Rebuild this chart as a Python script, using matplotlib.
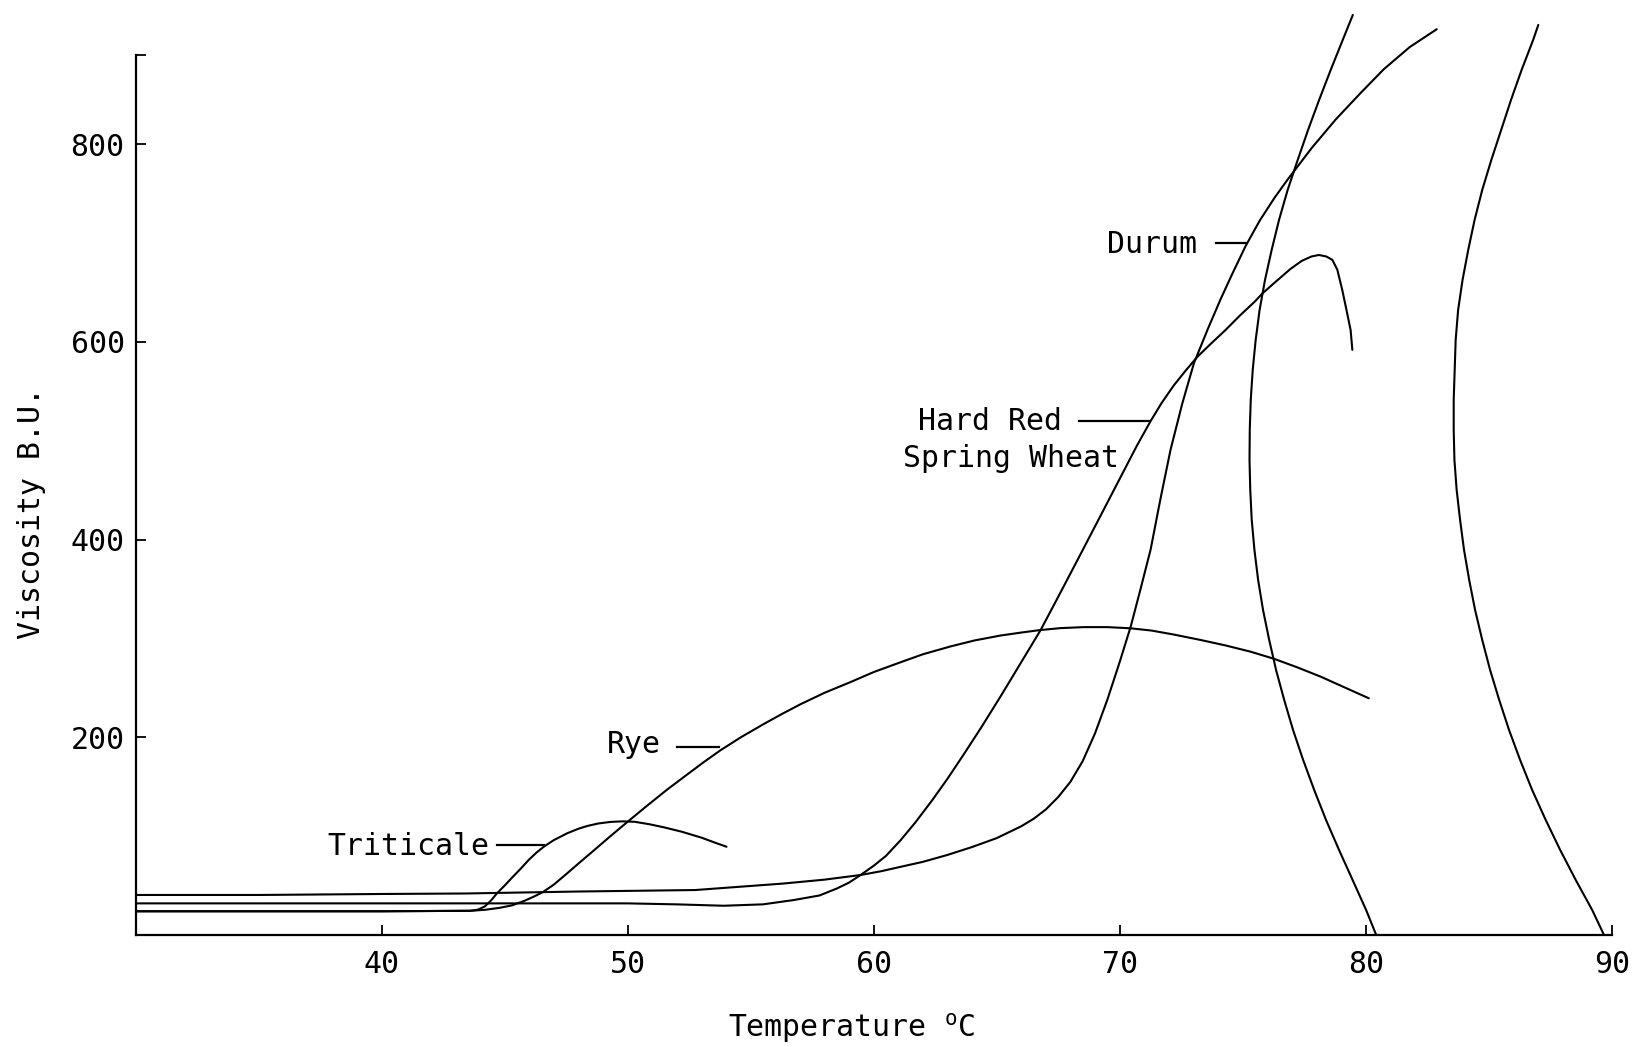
import matplotlib
matplotlib.use("Agg")
import matplotlib.pyplot as plt

plt.rcParams['font.family'] = ['DejaVu Sans Mono']
plt.rcParams['mathtext.fontset'] = 'custom'
plt.rcParams['mathtext.rm'] = 'DejaVu Sans Mono'

# Amylograph traces: temperature (deg C) vs viscosity (Brabender units)
durum_t = [30, 35, 40, 43.4, 48, 52.75, 56.3, 58, 59.47, 60.3, 61.1, 62, 63,
           64, 65, 66, 66.5, 67, 67.5, 68, 68.5, 69, 69.5, 70, 70.45, 70.85,
           71.26, 71.65, 72.07, 72.55, 73.02, 73.6, 74.1, 74.6, 75.12, 75.7,
           76.3, 76.82, 77.8, 78.78, 79.8, 80.74, 81.8, 82.89]
durum_v = [40.5, 40.5, 41.5, 42, 44, 45.5, 52, 56, 60.7, 64.5, 69, 74, 81,
           89, 98, 110, 117.5, 127, 139.5, 155, 176, 204, 238, 276, 312, 350,
           390, 440, 491, 538, 578.5, 614, 643, 670, 697, 723,
           746, 764, 796, 825, 852, 876, 898.5, 916.4]

hrs_t = [30, 40, 45, 50, 52, 53.9, 55.5, 56.76, 57.8, 58.5, 59.0, 59.47, 60,
         60.5, 61.1, 61.7, 62.4, 63, 63.67, 64.4, 65.2, 66, 66.79, 67.5, 68.3,
         69.2, 70.2, 70.7, 71.26, 71.7, 72.2, 72.7, 73.16, 73.7, 74.3, 74.9,
         75.5, 75.8, 76.3, 76.95, 77.4, 77.8, 78.1, 78.4, 78.65, 78.85, 79.05,
         79.25, 79.39, 79.46]
hrs_v = [32, 32, 32, 32, 31, 29.6, 31, 35.4, 40, 47, 53, 60.7, 70,
         80, 96, 114, 137, 158, 183, 211, 243, 276, 308.6, 342, 380,
         423, 471, 495, 520, 538, 556, 571.5, 585, 598, 612, 627,
         641, 649, 660, 674, 682, 686.5, 688, 686.5, 683, 673, 652.6,
         629, 612, 592]

rye_t = [30, 40, 43.6, 44.2, 44.8, 45.3, 45.8, 46.2, 46.56, 47, 47.5, 48.08,
         48.6, 49.3, 50, 50.8, 51.6, 52.4, 53.1, 53.78, 54.6, 55.5, 56.3,
         57.03, 58, 59.07, 60, 61.1, 62, 63.13, 64.1, 65.16, 66, 66.76, 67.6,
         68.55, 69.5, 70.45, 71.3, 72.2, 73.29, 74.3, 75.33, 76.27, 77.2,
         78.17, 79.1, 80.13]
rye_v = [24, 24, 24.5, 25.5, 27.5, 30, 34.5, 39, 43.5, 51, 61.5, 74,
         85, 100, 114.6, 131, 147, 162, 175, 187, 200, 213, 224,
         233.5, 245, 256, 266, 276, 284, 292, 298, 303, 306, 308.5, 310.5,
         311.5, 311.5, 310.3, 308, 304, 298.5, 293, 286.6, 279.5, 271,
         261.4, 251, 239.5]

trit_t = [30, 40, 43.6, 43.9, 44.2, 44.45, 44.69, 45, 45.3, 45.65, 45.98,
          46.3, 46.6, 47, 47.55, 48, 48.36, 48.8, 49.3, 49.8, 50.3, 50.9,
          51.5, 52.2, 53, 53.6, 54.02]
trit_v = [24, 24, 24.5, 25.5, 29, 35, 42.2, 50, 58, 67, 76,
          83.5, 89.5, 96, 103, 107.5, 110.3, 112.8, 114.4, 115, 114.5, 112,
          108.8, 104.5, 98.5, 93, 89.3]

# Recorder arcs meeting the baseline at 80 and 90 deg C
arc_v = [930.9, 905.6, 875.2, 844.9, 814.5, 784.2, 753.8, 723.5, 693.1,
         662.8, 632.4, 602.0, 571.7, 541.3, 511.0, 480.6, 450.3, 419.9,
         389.6, 359.2, 328.8, 298.5, 268.1, 237.8, 207.4, 177.1, 146.7,
         116.4, 86.0, 55.7, 25.3, 0]
arc80_t = [79.48, 79.07, 78.58, 78.11, 77.66, 77.24, 76.83, 76.48, 76.18,
           75.91, 75.69, 75.53, 75.41, 75.33, 75.29, 75.28, 75.31, 75.37,
           75.48, 75.63, 75.83, 76.08, 76.36, 76.69, 77.05, 77.46, 77.91,
           78.39, 78.92, 79.47, 80.02, 80.43]
arc90_v = [920.8] + arc_v[1:]
arc90_t = [87.02, 86.81, 86.34, 85.91, 85.51, 85.11, 84.74, 84.43, 84.17,
           83.94, 83.76, 83.66, 83.62, 83.58, 83.58, 83.61, 83.70, 83.84,
           84.00, 84.21, 84.45, 84.74, 85.06, 85.43, 85.83, 86.28, 86.77,
           87.32, 87.91, 88.54, 89.21, 89.69]

x_ticks = [40, 50, 60, 70, 80, 90]
y_ticks = [200, 400, 600, 800, 890]
y_tick_labels = ['200', '400', '600', '800', '']

fig = plt.figure(figsize=(16.4, 10.47), dpi=100)
ax = fig.add_axes([0.0827, 0.10697, 0.9, 0.8921])
ax.set_xlim(30, 90)
ax.set_ylim(0, 945)

line_kw = dict(color='black', lw=1.5, solid_capstyle='round',
               solid_joinstyle='round')
for t, v in [(durum_t, durum_v), (hrs_t, hrs_v), (rye_t, rye_v),
             (trit_t, trit_v), (arc80_t, arc_v), (arc90_t, arc90_v)]:
    ax.plot(t, v, **line_kw)

for s in ['top', 'right']:
    ax.spines[s].set_visible(False)
ax.spines['left'].set_bounds(0, 890)
ax.spines['bottom'].set_bounds(30, 90)
for s in ['left', 'bottom']:
    ax.spines[s].set_linewidth(1.6)

ax.set_xticks(x_ticks)
ax.set_xticklabels([str(t) for t in x_ticks])
ax.set_yticks(y_ticks)
ax.set_yticklabels(y_tick_labels)
ax.tick_params(direction='in', length=7, width=1.3, labelsize=21.5)
ax.tick_params(axis='x', pad=11)
ax.tick_params(axis='y', pad=8)

fs = 21.5
# Curve labels with leader lines
labels = [
    ('Durum', 73.13, 700, 73.9, 75.12, 700.5),
    ('Hard Red', 67.67, 521, 68.35, 71.19, 520.4),
    ('Rye', 51.34, 194, 52.0, 53.71, 190),
    ('Triticale', 44.36, 91, 44.7, 46.6, 91),
]
for text, tx, ty, x0, x1, ly in labels:
    ax.text(tx, ty - 10, text, ha='right', va='baseline', fontsize=fs)
    ax.plot([x0, x1], [ly, ly], color='black', lw=1.6)
ax.text(69.97, 484 - 10, 'Spring Wheat', ha='right', va='baseline', fontsize=fs)

fig.text(0.0191, 0.5105, 'Viscosity B.U.', rotation=90, ha='center',
         va='center', fontsize=fs)
fig.text(0.5195, 0.018, r'Temperature $^{\mathrm{o}}$C', ha='center',
         va='center', fontsize=fs)

fig.savefig('out.png', dpi=100, facecolor='white')
